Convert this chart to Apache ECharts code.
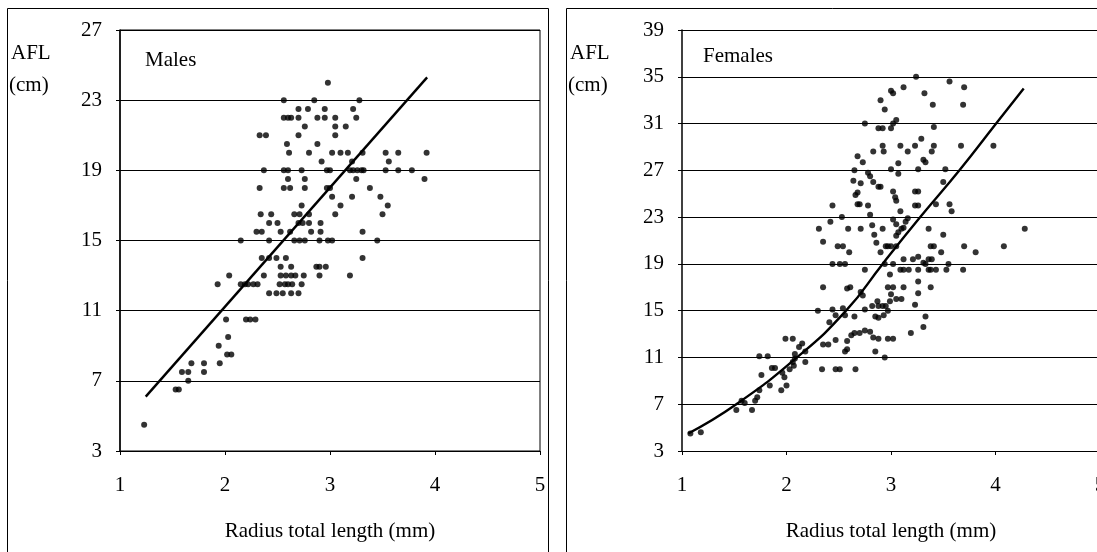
<!DOCTYPE html>
<html>
<head>
<meta charset="utf-8">
<script src="https://cdn.jsdelivr.net/npm/echarts@6/dist/echarts.min.js"></script>
<style>
html,body{margin:0;padding:0;background:#fff;}
#c{width:1097px;height:552px;}
</style>
</head>
<body>
<div id="c"></div>
<script>
// ---- data ----
const xTicks = [1, 2, 3, 4, 5];
const yTicksMales = [3, 7, 11, 15, 19, 23, 27];
const yTicksFemales = [3, 7, 11, 15, 19, 23, 27, 31, 35, 39];

const malesPoints = [
[1.23,4.5],[1.53,6.5],[1.56,6.5],[1.59,7.5],[1.65,7.5],[1.65,7],[1.68,8],[1.8,8],[1.8,7.5],[1.95,8],[1.94,9],[2.03,9.5],[2.02,8.5],[2.06,8.5],[2.01,10.5],[2.2,10.5],[2.24,10.5],[2.29,10.5],[1.93,12.5],[2.04,13],[2.15,12.5],[2.19,12.5],[2.22,12.5],[2.27,12.5],[2.31,12.5],[2.37,13],[2.42,12],[2.49,12],[2.55,12],[2.63,12],[2.7,12],[2.52,12.5],[2.57,12.5],[2.6,12.5],[2.64,12.5],[2.53,13],[2.58,13],[2.63,13],[2.67,13],[2.53,13.5],[2.63,13.5],[2.73,12.5],[2.75,13],[2.9,13],[2.87,13.5],[2.9,13.5],[2.96,13.5],[3.19,13],[3.31,14],[2.35,14],[2.42,14],[2.49,14],[2.58,14],[2.15,15],[2.3,15.5],[2.35,15.5],[2.42,15],[2.42,16],[2.5,16],[2.34,16.5],[2.44,16.5],[2.53,15.5],[2.62,15.5],[2.66,15],[2.71,15],[2.76,15],[2.66,16.5],[2.71,16.5],[2.7,16],[2.74,16],[2.8,16.5],[2.8,16],[2.82,15.5],[2.91,16],[2.91,15.5],[2.9,15],[2.98,15],[3.02,15],[3.05,16.5],[3.1,17],[3.31,15.5],[3.45,15],[3.5,16.5],[3.55,17],[3.48,17.5],[3.38,18],[3.21,17.5],[3.25,18.5],[3.19,19],[3.22,19],[3.26,19],[3.3,19],[3.32,19],[2.97,19],[3.0,19],[2.97,18],[3.0,18],[3.02,17.5],[2.73,19],[2.56,19],[2.6,19],[2.37,19],[2.33,18],[2.56,18],[2.62,18],[2.6,18.5],[2.76,18.5],[2.76,18],[2.73,17],[3.53,19],[3.65,19],[3.56,19.5],[3.78,19],[3.9,18.5],[3.92,20],[3.53,20],[3.65,20],[3.31,20],[3.21,19.5],[3.1,20],[3.17,20],[3.02,20],[2.92,19.5],[2.8,20],[2.61,20],[2.59,20.5],[2.88,20.5],[2.7,21],[3.05,21],[3.15,21.5],[3.05,21.5],[2.33,21],[2.39,21],[2.76,21.5],[2.56,22],[2.6,22],[2.63,22],[2.7,22],[2.88,22],[2.95,22],[3.05,22],[3.25,22],[2.7,22.5],[2.79,22.5],[2.95,22.5],[3.22,22.5],[2.56,23],[2.85,23],[3.28,23],[2.98,24]
];
const malesTrend = [[1.245,6.1],[3.925,24.3]];

const femalesPoints = [
[1.08,4.5],[1.18,4.6],[1.52,6.5],[1.57,7.3],[1.6,7.1],[1.67,6.5],[1.7,7.3],[1.72,7.6],[1.74,8.2],[1.76,9.5],[1.84,8.6],[1.95,8.2],[2.0,8.6],[1.74,11.1],[1.82,11.1],[1.86,10.1],[1.89,10.1],[1.96,9.7],[1.98,9.3],[2.03,10.0],[2.07,10.3],[2.06,10.6],[2.08,10.9],[1.99,12.6],[2.06,12.6],[2.08,11.3],[2.12,11.9],[2.18,11.5],[2.18,10.6],[2.15,12.2],[2.34,10.0],[2.47,10.0],[2.51,10.0],[2.66,10.0],[2.35,12.1],[2.4,12.1],[2.47,12.5],[2.58,12.4],[2.58,11.7],[2.56,11.5],[2.62,12.9],[2.65,13.1],[2.7,13.1],[2.75,13.3],[2.8,13.2],[2.83,12.7],[2.88,12.6],[2.97,12.6],[3.02,12.6],[2.94,11.0],[2.85,11.5],[3.19,13.1],[3.31,13.6],[3.33,14.5],[2.3,15.0],[2.41,14.0],[2.44,15.1],[2.47,14.6],[2.54,15.2],[2.56,14.6],[2.65,14.5],[2.35,17.0],[2.58,16.9],[2.61,17.0],[2.71,16.6],[2.73,16.3],[2.75,15.1],[2.82,15.4],[2.87,15.8],[2.88,15.4],[2.85,14.5],[2.88,14.4],[2.93,14.6],[2.97,15.0],[2.92,15.4],[2.95,15.4],[2.99,15.8],[3.0,16.4],[3.02,17.0],[2.97,17.0],[3.05,16.0],[3.1,16.0],[3.12,17.0],[3.23,15.5],[3.26,16.5],[3.26,17.5],[3.38,17.0],[3.33,19.0],[3.36,18.5],[3.43,18.5],[3.38,18.5],[3.53,18.5],[3.55,19.0],[3.69,18.5],[3.26,18.5],[3.17,18.5],[3.12,18.5],[3.09,18.5],[2.99,18.1],[2.94,19.0],[3.02,19.0],[2.75,18.5],[2.51,19.0],[2.44,19.0],[2.56,19.0],[3.21,19.4],[3.12,19.4],[3.36,19.4],[3.39,19.4],[3.48,20.0],[2.9,20.0],[2.97,20.5],[2.95,20.5],[3.05,20.5],[3.38,20.5],[3.41,20.5],[3.7,20.5],[3.81,20.0],[4.08,20.5],[4.28,22.0],[3.5,21.5],[3.36,22.0],[3.1,22.0],[3.12,22.1],[2.92,22.0],[2.71,22.0],[2.59,22.0],[2.31,22.0],[2.35,20.9],[2.49,20.5],[2.54,20.5],[2.6,20.0],[2.42,22.6],[2.53,23.0],[2.44,24.0],[2.68,24.1],[2.7,24.1],[2.78,24.0],[2.8,23.2],[2.82,22.3],[2.84,21.5],[2.86,20.8],[2.66,24.9],[2.68,25.1],[2.64,26.1],[2.65,27.0],[2.71,25.9],[2.68,28.2],[2.73,27.7],[2.78,26.8],[2.8,26.5],[2.83,26.0],[2.88,25.6],[2.9,25.6],[2.83,28.6],[2.93,28.6],[2.92,29.1],[2.75,31.0],[2.88,30.6],[2.92,30.6],[3.0,30.6],[3.02,31.0],[3.05,31.3],[2.94,32.2],[2.9,33.0],[3.0,33.8],[3.02,33.6],[3.12,34.1],[3.24,35.0],[3.32,33.6],[3.4,32.6],[3.56,34.6],[3.7,34.1],[3.69,32.6],[3.41,30.7],[3.29,29.7],[3.23,29.1],[3.16,28.6],[3.09,29.1],[3.41,29.1],[3.39,28.6],[3.67,29.1],[3.98,29.1],[3.31,27.9],[3.33,27.7],[3.26,27.1],[3.07,27.6],[3.07,26.7],[3.0,27.1],[3.52,27.1],[3.5,26.0],[3.56,24.1],[3.58,23.5],[3.43,24.1],[3.23,25.2],[3.26,25.2],[3.23,24.0],[3.26,24.0],[3.02,25.2],[3.04,24.7],[3.05,24.4],[3.09,23.5],[3.02,22.8],[3.05,22.4],[3.07,21.7],[3.05,21.4],[3.0,20.5],[3.14,22.6],[3.16,22.9],[3.26,19.6],[3.31,19.1]
];
const femalesTrend = [[1.06,4.5],[1.52,7],[2.1,11],[2.57,15],[2.92,19],[3.28,23],[3.655,27],[4.006,31],[4.27,34]];

const yLabelText = ['AFL', '(cm)'];
const panelTitles = ['Males', 'Females'];
const xAxisTitle = 'Radius total length (mm)';

// ---- chart ----
const FONT = '"Liberation Serif", "DejaVu Serif", serif';
const FS = 21;
const chart = echarts.init(document.getElementById('c'), null, {renderer: 'canvas'});

function xAxisCfg(gi) {
  return {
    gridIndex: gi, type: 'value', min: xTicks[0], max: xTicks[xTicks.length-1], interval: 1,
    axisLine: {show: true, onZero: false, lineStyle: {color: '#000', width: 1}},
    axisTick: {show: true, length: 4, lineStyle: {color: '#000'}},
    axisLabel: {color: '#000', fontFamily: FONT, fontSize: FS, margin: 24, showMaxLabel: true, showMinLabel: true},
    splitLine: {show: false},
    name: xAxisTitle, nameLocation: 'middle', nameGap: 70,
    nameTextStyle: {color: '#000', fontFamily: FONT, fontSize: FS}
  };
}
function yAxisCfg(gi, ticks) {
  return {
    gridIndex: gi, type: 'value', min: ticks[0], max: ticks[ticks.length-1], interval: 4,
    axisLine: {show: true, onZero: false, lineStyle: {color: '#000', width: 1.5}},
    axisTick: {show: true, length: 4, lineStyle: {color: '#000'}},
    axisLabel: {color: '#000', fontFamily: FONT, fontSize: FS, margin: 18},
    splitLine: {show: true, lineStyle: {color: '#000', width: 1}}
  };
}

const option = {
  backgroundColor: '#fff',
  animation: false,
  grid: [
    {left: 120, top: 30, width: 420, height: 421, show: true, borderColor: '#000', borderWidth: 1,
     backgroundColor: 'transparent', containLabel: false, outerBoundsMode: 'none'},
    {left: 682, top: 30, width: 418, height: 421, show: false, containLabel: false, outerBoundsMode: 'none'}
  ],
  xAxis: [xAxisCfg(0), xAxisCfg(1)],
  yAxis: [yAxisCfg(0, yTicksMales), yAxisCfg(1, yTicksFemales)],
  series: [
    {type: 'scatter', xAxisIndex: 0, yAxisIndex: 0, data: malesPoints, symbolSize: 6, itemStyle: {color: '#000'}},
    {type: 'line', xAxisIndex: 0, yAxisIndex: 0, data: malesTrend, symbol: 'none', lineStyle: {color: '#000', width: 2.4}},
    {type: 'scatter', xAxisIndex: 1, yAxisIndex: 1, data: femalesPoints, symbolSize: 6, itemStyle: {color: '#000'}},
    {type: 'line', xAxisIndex: 1, yAxisIndex: 1, data: femalesTrend, smooth: true, symbol: 'none', lineStyle: {color: '#000', width: 2.4}}
  ],
  graphic: [
    {type: 'rect', shape: {x: 7.5, y: 8.5, width: 541, height: 560}, style: {fill: 'none', stroke: '#000', lineWidth: 1}, silent: true},
    {type: 'rect', shape: {x: 566.5, y: 8.5, width: 560, height: 560}, style: {fill: 'none', stroke: '#000', lineWidth: 1}, silent: true},
    {type: 'text', left: 11, top: 43, style: {text: yLabelText[0], font: FS + 'px ' + FONT, fill: '#000'}},
    {type: 'text', left: 9, top: 75, style: {text: yLabelText[1], font: FS + 'px ' + FONT, fill: '#000'}},
    {type: 'text', left: 570, top: 43, style: {text: yLabelText[0], font: FS + 'px ' + FONT, fill: '#000'}},
    {type: 'text', left: 568, top: 75, style: {text: yLabelText[1], font: FS + 'px ' + FONT, fill: '#000'}},
    {type: 'text', left: 145, top: 50, style: {text: panelTitles[0], font: FS + 'px ' + FONT, fill: '#000'}},
    {type: 'text', left: 703, top: 46, style: {text: panelTitles[1], font: FS + 'px ' + FONT, fill: '#000'}}
  ]
};
chart.setOption(option);
</script>
</body>
</html>
